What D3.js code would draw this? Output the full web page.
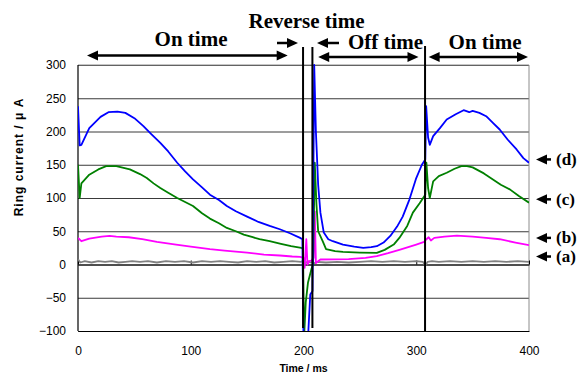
<!DOCTYPE html>
<html>
<head>
<meta charset="utf-8">
<script src="https://cdn.jsdelivr.net/npm/d3@7"></script>
<style>
  html, body { margin: 0; padding: 0; background: #fff; }
  svg { display: block; }
</style>
</head>
<body>
<div id="chart"></div>
<script>
// ---------- data ----------
var xTicks = [0, 100, 200, 300, 400];
var yTicks = [-100, -50, 0, 50, 100, 150, 200, 250, 300];

var dT = [0, 1.5, 3, 10, 20, 27, 35, 42, 50, 58, 65, 73, 80, 88, 95, 102, 110, 117, 125, 132, 140, 150, 160, 170, 179, 188, 197, 199, 200, 204, 206, 208, 209.5, 211, 213, 215, 218, 222, 226, 235, 245, 253, 260, 265, 271, 277, 283, 288, 294, 300, 305, 308, 308.8, 310.5, 312, 315, 321, 327, 335, 342, 347, 350, 356, 362, 368, 374, 381, 389, 395, 400];
var dV = [238, 179, 180, 205, 222, 229, 230, 228, 220, 208, 196, 183, 170, 153, 140, 128, 116, 105, 97, 88, 80, 72, 64, 58, 53, 47, 40, 38, -110, -110, -45, -40, 300, 200, 120, 78, 48, 38, 35, 30, 27, 25, 26, 27.5, 33, 43, 57, 72, 98, 130, 150, 158, 238, 191, 180, 193, 205, 218, 226, 232, 229, 231, 228, 223, 213, 203, 188, 173, 160, 153];

var cT = [0, 1.5, 3, 10, 18, 25, 34, 46, 55, 61, 67, 73, 80, 88, 95, 102, 110, 117, 125, 132, 140, 147, 155, 161, 170, 180, 189, 198, 199.5, 200.5, 202, 204, 207, 208.5, 210, 211.5, 213, 217, 220, 228, 235, 250, 265, 272, 280, 285, 292, 297, 303, 308, 309, 310.5, 312, 315, 320, 327, 334, 340, 345, 350, 360, 368, 375, 383, 391, 400];
var cV = [150, 100, 122, 135, 143, 148, 148, 143, 136, 130, 122, 115, 108, 100, 94, 88, 77, 69, 62, 55, 50, 45, 41, 38, 35, 31, 27.5, 25, 24, -110, -57, -27, -7, 0, 153, 90, 50, 35, 23, 20, 19, 18, 17.5, 22, 30, 40, 58, 78, 92, 105, 153, 115, 100, 125, 133, 138, 144, 148, 148, 146, 137, 128, 120, 113, 103, 93];

var bT = [0, 3, 10, 21, 28, 34, 45, 57, 70, 87, 100, 117, 130, 150, 165, 179, 190, 197, 200, 201, 202.5, 203.5, 205, 207, 209, 210, 211, 213, 215, 240, 255, 265, 275, 285, 300, 307, 309, 311, 313, 316, 325, 336, 350, 362, 374, 388, 400];
var bV = [40, 35, 39, 42, 43, 42, 41, 38, 34, 30, 27, 23, 21, 18, 15, 13.5, 12, 11.5, 10, -5, 38, 0, 5, 6, 10, 80, 2, 5, 7.5, 8, 10, 12.5, 17, 22, 30, 34, 38, 41, 36, 40, 42, 43.5, 42, 40, 38, 33, 29];

var aT = [0, 2, 6, 12, 18, 24, 30, 36, 42, 48, 55, 62, 70, 78, 86, 94, 102, 110, 118, 126, 134, 142, 150, 158, 166, 174, 182, 190, 198, 200, 202, 204, 206, 208, 210, 212, 220, 230, 240, 250, 260, 270, 280, 290, 300, 306, 308, 310, 314, 320, 330, 340, 350, 360, 370, 380, 390, 400];
var aV = [8, 3, 5, 3, 5, 4, 5, 3, 4, 5, 4, 5, 3, 5, 4, 5, 3, 5, 4, 5, 4, 3, 5, 4, 5, 3, 4, 5, 4, 6, 2, 5, 3, 4, 2, 4, 3, 4, 3, 4, 5, 4, 5, 4, 5, 4, -2, 4, 5, 4, 5, 4, 5, 4, 5, 4, 5, 4];

var seriesNames = ['(a)', '(b)', '(c)', '(d)'];
var seriesColors = ['#808080', '#ff00ff', '#008000', '#0000ff'];
var labelY = [12, 40, 98, 158];   // where the side arrows point, in data units

(function () {
  var W = 584, H = 376, m = { t: 65, r: 55, b: 45, l: 78 };
  var SERIF = '"Liberation Serif", "Times New Roman", serif';
  var SANS = '"Liberation Sans", Arial, sans-serif';
  var svg = d3.select('#chart').append('svg').attr('width', W).attr('height', H);
  var x = d3.scaleLinear().domain([0, 400]).range([m.l, W - m.r]);
  var y = d3.scaleLinear().domain([-100, 300]).range([H - m.b, m.t]);

  // ---------- grid + axes ----------
  svg.append('g').attr('transform', 'translate(' + m.l + ',0)')
    .call(d3.axisLeft(y).tickValues(yTicks).tickSize(-(x(400) - x(0))).tickPadding(12).tickFormat(function (d) { return d < 0 ? '\u2212' + (-d) : d; }))
    .call(function (g) { g.select('.domain').remove(); })
    .call(function (g) { g.selectAll('line').attr('stroke', '#3a3a3a').attr('stroke-width', 1); })
    .call(function (g) { g.selectAll('text').attr('fill', '#000').attr('font-size', 12).attr('font-family', SANS); });
  svg.append('line').attr('x1', x(400)).attr('x2', x(400)).attr('y1', y(300)).attr('y2', y(-100)).attr('stroke', '#8c8c8c');
  svg.append('line').attr('x1', x(0)).attr('x2', x(400)).attr('y1', y(300)).attr('y2', y(300)).attr('stroke', '#8c8c8c');
  svg.append('line').attr('x1', x(0)).attr('x2', x(0)).attr('y1', y(300)).attr('y2', y(-100)).attr('stroke', '#000').attr('stroke-width', 1.2);

  svg.append('g').attr('transform', 'translate(0,' + y(-100) + ')')
    .call(d3.axisBottom(x).tickValues(xTicks).tickSize(0).tickPadding(15))
    .call(function (g) { g.select('.domain').attr('stroke', '#000'); })
    .call(function (g) { g.selectAll('text').attr('fill', '#000').attr('font-size', 12).attr('font-family', SANS); });
  svg.append('g').attr('transform', 'translate(0,' + y(0) + ')')
    .call(d3.axisBottom(x).tickValues(xTicks).tickSizeInner(-4).tickSizeOuter(0).tickFormat(''))
    .call(function (g) { g.select('.domain').attr('stroke', '#000'); })
    .call(function (g) { g.selectAll('line').attr('stroke', '#000'); });

  svg.append('text').attr('x', (x(0) + x(400)) / 2).attr('y', 372).attr('text-anchor', 'middle')
    .attr('font-family', SANS).attr('font-weight', 'bold').attr('font-size', 10.5).text('Time / ms');
  svg.append('text').attr('transform', 'translate(23,157) rotate(-90)').attr('text-anchor', 'middle')
    .attr('font-family', SANS).attr('font-weight', 'bold').attr('font-size', 12).attr('letter-spacing', 1).text('Ring current / \u03bc A');

  // ---------- curves ----------
  svg.append('clipPath').attr('id', 'plot').append('rect')
    .attr('x', x(0)).attr('y', y(300) - 1).attr('width', x(400) - x(0)).attr('height', y(-100) - y(300) + 1);
  var line = d3.line().x(function (d) { return x(d[0]); }).y(function (d) { return y(d[1]); });
  var gCurves = svg.append('g').attr('clip-path', 'url(#plot)');
  [[aT, aV], [bT, bV], [cT, cV], [dT, dV]].forEach(function (s, i) {
    var pts = s[0].map(function (t, k) { return [t, s[1][k]]; });
    gCurves.append('path').datum(pts).attr('d', line).attr('fill', 'none')
      .attr('stroke', seriesColors[i]).attr('stroke-width', 1.8).attr('stroke-linejoin', 'round');
  });

  // ---------- timing marks ----------
  function vline(t, y1, y2) { svg.append('line').attr('x1', x(t)).attr('x2', x(t)).attr('y1', y1).attr('y2', y2).attr('stroke', '#000').attr('stroke-width', 2); }
  vline(199.6, 47, 328); vline(207.9, 47, 328); vline(307.8, 46, y(-100));

  function head(px, py, dir, len, hw) {
    svg.append('path').attr('d', 'M' + px + ',' + py + 'L' + (px - dir * len) + ',' + (py - hw) + 'L' + (px - dir * len) + ',' + (py + hw) + 'Z').attr('fill', '#000');
  }
  function arrow(x1, x2, py, both) {
    var dir = x2 > x1 ? 1 : -1;
    svg.append('line').attr('x1', both ? x1 + dir * 6 : x1).attr('x2', x2 - dir * 6).attr('y1', py).attr('y2', py).attr('stroke', '#000').attr('stroke-width', 2.5);
    head(x2, py, dir, 11, 5);
    if (both) head(x1, py, -dir, 11, 5);
  }
  arrow(x(8), x(186), 55.5, true);
  arrow(x(213), x(302), 57, true);
  arrow(x(311), x(400) - 1, 57, true);
  arrow(277, 298, 43, false);
  arrow(339, 317, 43, false);

  function title(s, cx, by) {
    svg.append('text').attr('x', cx).attr('y', by).attr('text-anchor', 'middle').attr('font-family', SERIF)
      .attr('font-weight', 'bold').attr('font-size', 21).text(s);
  }
  title('On time', 191, 46);
  title('Reverse time', 306.5, 28);
  title('Off time', 385.5, 48.5);
  title('On time', 485, 48.5);

  // ---------- series labels ----------
  seriesNames.forEach(function (n, i) {
    var py = y(labelY[i]);
    arrow(551, 536, py, false);
    svg.append('text').attr('x', 556).attr('y', py + 5.5).attr('font-family', SERIF).attr('font-weight', 'bold').attr('font-size', 17).text(n);
  });
})();
</script>
</body>
</html>
